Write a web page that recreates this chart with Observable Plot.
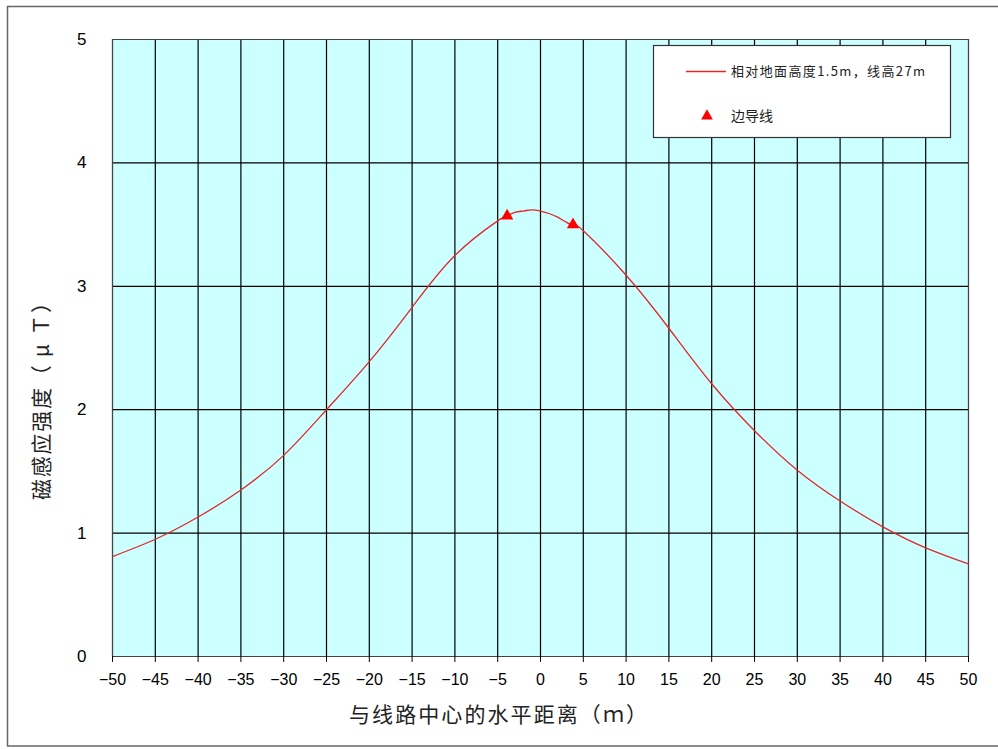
<!DOCTYPE html>
<html><head><meta charset="utf-8">
<script src="https://cdn.jsdelivr.net/npm/d3@7"></script>
<script src="https://cdn.jsdelivr.net/npm/@observablehq/plot@0.6"></script>
<style>
body{margin:0;background:#fff;}
#wrap{position:relative;width:998px;height:749px;overflow:hidden;}
</style>
</head><body><div id="wrap"></div>
<script>
// Horizontal distance from line centre (m) and magnetic induction (μT)
const distances = [-50,-45,-40,-35,-30,-25,-20,-15,-10,-5,-4,-3,-2,-1,0,1,2,3,4,5,10,15,20,25,30,35,40,45,50];
const fieldValues = [0.81,0.95,1.13,1.35,1.63,2.00,2.39,2.83,3.25,3.53,3.57,3.60,3.61,3.62,3.61,3.59,3.56,3.52,3.49,3.45,3.09,2.66,2.21,1.83,1.51,1.26,1.05,0.88,0.75];
// Side conductors
const conductorX = [-3.9, 3.8];
const conductorY = [3.57, 3.50];
// Ticks
const xTicks = d3.range(-50, 51, 5);
const yTicks = [0, 1, 2, 3, 4, 5];
const seriesName = "相对地面高度1.5m，线高27m";
const conductorName = "边导线";
const xTitle = "与线路中心的水平距离（ｍ）";
const yTitle = "磁感应强度（ μ Ｔ）";

const curve = distances.map((d, i) => ({x: d, y: fieldValues[i]}));
const conductors = conductorX.map((d, i) => ({x: d, y: conductorY[i]}));

const chart = Plot.plot({
  width: 998, height: 749,
  marginLeft: 112, marginRight: 30, marginTop: 39, marginBottom: 93,
  style: {fontFamily: "'Liberation Sans', Arial, sans-serif", fontSize: "16px", background: "transparent", color: "#000", overflow: "visible"},
  x: {domain: [-50, 50]},
  y: {domain: [0, 5]},
  marks: [
    Plot.frame({fill: "#ccffff", stroke: "none"}),
    Plot.ruleX(xTicks, {stroke: "#000", strokeWidth: 1.2}),
    Plot.ruleY(yTicks, {stroke: "#000", strokeWidth: 1.2}),
    Plot.frame({stroke: "#444", strokeWidth: 1}),
    Plot.line(curve, {x: "x", y: "y", stroke: "#e02828", strokeWidth: 1.3, curve: "natural"}),
    Plot.dot(conductors, {x: "x", y: "y", symbol: "triangle", fill: "#ff0000", r: 4.6, stroke: "none"}),
    Plot.axisX({ticks: xTicks, tickSize: 6, tickPadding: 11, label: null, fontSize: 16, stroke: "#000"}),
    Plot.axisY({ticks: yTicks, tickSize: 0, tickPadding: 26, tickFormat: d => String(d), label: null, fontSize: 17})
  ]
});
document.getElementById("wrap").appendChild(chart);

const svg = d3.select(chart);
// outer border
svg.append("rect").attr("x", 7.5).attr("y", 6.5).attr("width", 1000).attr("height", 739.5)
  .attr("fill", "none").attr("stroke", "#666").attr("stroke-width", 1.5);
// axis titles
svg.append("text").attr("x", 498).attr("y", 722).attr("text-anchor", "middle")
  .attr("font-family", "'Noto Sans CJK SC', sans-serif").attr("font-size", 21).attr("fill", "#222")
  .attr("textLength", 298).attr("lengthAdjust", "spacing").text(xTitle);
svg.append("text").attr("transform", "translate(49,396) rotate(-90)").attr("text-anchor", "middle")
  .attr("font-family", "'Noto Sans CJK SC', sans-serif").attr("font-size", 21).attr("fill", "#222")
  .attr("textLength", 208).attr("lengthAdjust", "spacing").text(yTitle);
// legend
const lg = svg.append("g");
lg.append("rect").attr("x", 653.5).attr("y", 45.5).attr("width", 297).attr("height", 92)
  .attr("fill", "#fff").attr("stroke", "#333").attr("stroke-width", 1.2);
lg.append("line").attr("x1", 686).attr("x2", 726).attr("y1", 71.5).attr("y2", 71.5)
  .attr("stroke", "#e02828").attr("stroke-width", 1.3);
lg.append("text").attr("x", 731).attr("y", 76).attr("text-anchor", "start").attr("font-family", "'Noto Sans CJK SC', sans-serif")
  .attr("font-size", 13).attr("fill", "#222").attr("textLength", 194).attr("lengthAdjust", "spacing").text(seriesName);
lg.append("path").attr("d", d3.symbol(d3.symbolTriangle, 60)()).attr("transform", "translate(707,116)").attr("fill", "#ff0000");
lg.append("text").attr("x", 731).attr("y", 121).attr("text-anchor", "start").attr("font-family", "'Noto Sans CJK SC', sans-serif")
  .attr("font-size", 14).attr("fill", "#222").text(conductorName);
</script>
</body></html>
